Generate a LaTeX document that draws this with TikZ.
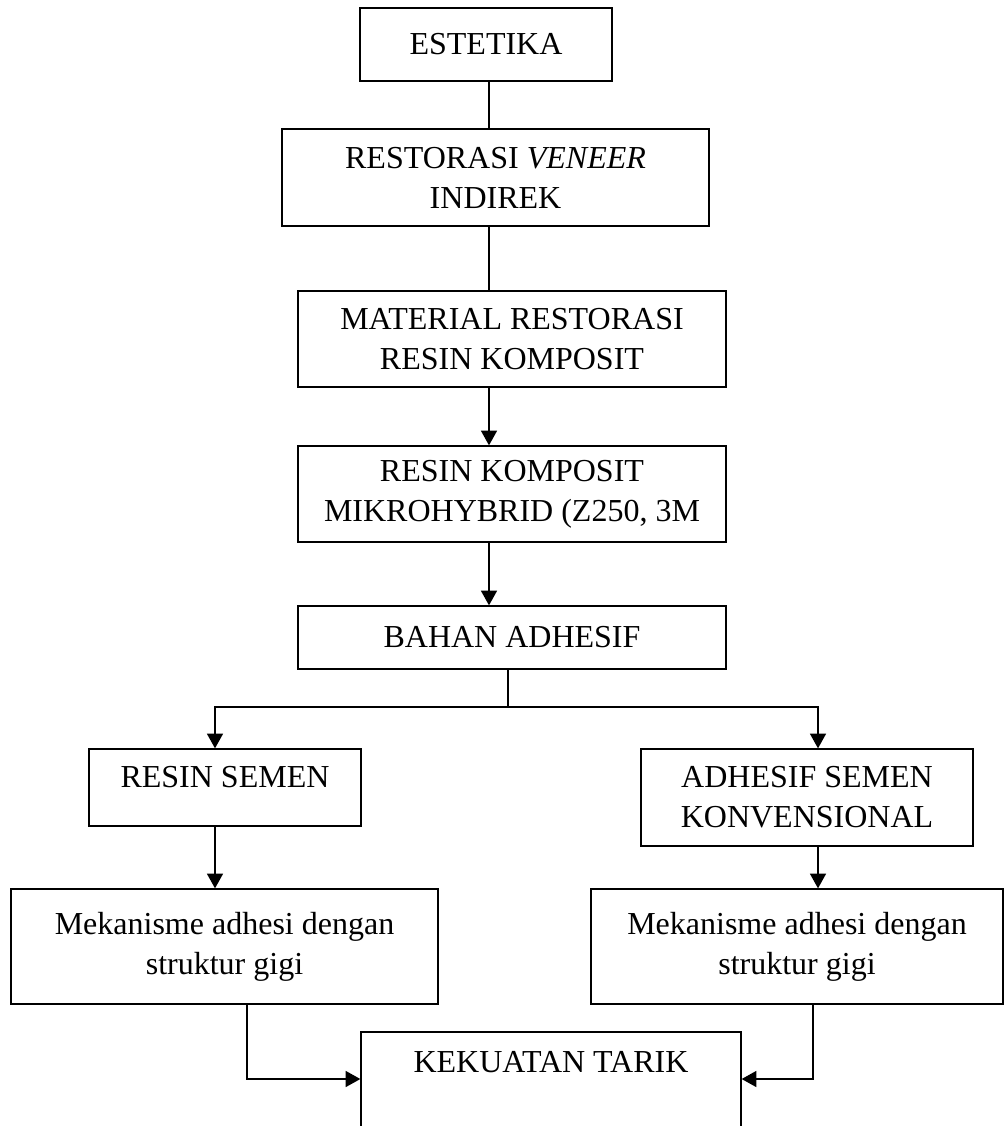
\documentclass[tikz,border=0pt]{standalone}
\usepackage{fontspec}
\setmainfont{Liberation Serif}
\usetikzlibrary{arrows.meta,calc}

\tikzset{
	kotak/.style={draw, align=center, inner sep=2pt},
}

\begin{document}
\begin{tikzpicture}[x=0.75pt, y=-0.75pt, line width=1pt, font=\fontsize{24}{30}\selectfont, >={Triangle[length=11pt,width=12pt]}] %alur penelitian
			\useasboundingbox (0,0) rectangle (1006,1126);
			\coordinate (spine) at (489,0);
			\coordinate (pisah) at (508,707);
			\coordinate (kiri) at (215,0);
			\coordinate (kanan) at (818,0);
			\coordinate (turunkiri) at (247,0);
			\coordinate (turunkanan) at (813,0);
			\coordinate (gabung) at (0,1079);

			\node[kotak, minimum width=189pt, minimum height=54.75pt] (est) at (486,44.5) {ESTETIKA};
			\node[kotak, minimum width=320.25pt, minimum height=72.75pt] (ver) at (495.5,177.5) {RESTORASI \textit{VENEER}\\INDIREK};
			\node[kotak, minimum width=321pt, minimum height=72pt] (mat) at (512,339) {MATERIAL RESTORASI\\RESIN KOMPOSIT};
			\node[kotak, minimum width=321pt, minimum height=72pt] (mik) at (512,494) {RESIN KOMPOSIT\\MIKROHYBRID (Z250, 3M};
			\node[kotak, minimum width=321pt, minimum height=47.25pt] (bah) at (512,637.5) {BAHAN ADHESIF};
			\node[kotak, minimum width=204pt, minimum height=57.75pt, text depth=15.8pt] (rsm) at (225,787.5) {RESIN SEMEN};
			\node[kotak, minimum width=249pt, minimum height=72.75pt] (asm) at (807,797.5) {ADHESIF SEMEN\\KONVENSIONAL};
			\node[kotak, minimum width=320.25pt, minimum height=86.25pt] (mkl) at (224.5,946.5) {Mekanisme adhesi dengan\\struktur gigi};
			\node[kotak, minimum width=309pt, minimum height=86.25pt] (mkr) at (797,946.5) {Mekanisme adhesi dengan\\struktur gigi};
			\node[kotak, minimum width=285pt, minimum height=88.5pt, text depth=43.5pt] (kek) at (551,1091) {KEKUATAN TARIK};

			\draw (est.south -| spine) -- (ver.north -| spine);
			\draw (ver.south -| spine) -- (mat.north -| spine);
			\draw[->] (mat.south -| spine) -- (mik.north -| spine);
			\draw[->] (mik.south -| spine) -- (bah.north -| spine);
			\draw (bah.south -| pisah) -- (pisah);
			\draw[->] (pisah) -| (rsm.north -| kiri);
			\draw[->] (pisah) -| (asm.north -| kanan);
			\draw[->] (rsm.south -| kiri) -- (mkl.north -| kiri);
			\draw[->] (asm.south -| kanan) -- (mkr.north -| kanan);
			\draw[->] (mkl.south -| turunkiri) |- (kek.west |- gabung);
			\draw[->] (mkr.south -| turunkanan) |- (kek.east |- gabung);
		\end{tikzpicture}
\end{document}
